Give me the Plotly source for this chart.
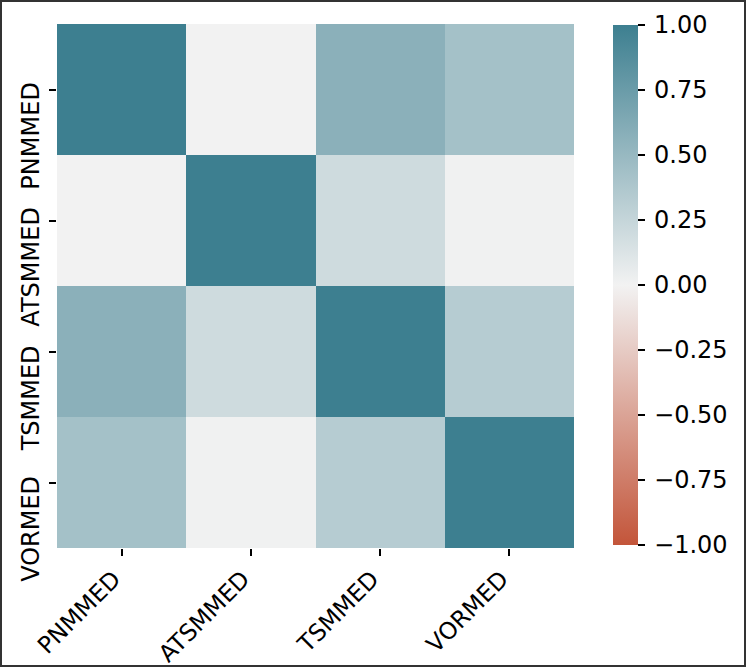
import plotly.graph_objects as go

labels = ["PNMMED", "ATSMMED", "TSMMED", "VORMED"]
corr = [
    [1.00, 0.00, 0.57, 0.43],
    [0.00, 1.00, 0.20, 0.01],
    [0.57, 0.20, 1.00, 0.33],
    [0.43, 0.01, 0.33, 1.00],
]
cbar_vals = [-1.0, -0.75, -0.5, -0.25, 0.0, 0.25, 0.5, 0.75, 1.0]
cbar_text = ["\u22121.00", "\u22120.75", "\u22120.50", "\u22120.25", "0.00", "0.25", "0.50", "0.75", "1.00"]

W, H = 746, 667
L, R, T, B = 57, 172, 24, 119
pw, ph = W - L - R, H - T - B

colorscale = [
    [0.0, "#c3553a"],
    [0.5, "#f2f2f2"],
    [1.0, "#3d7f90"],
]

fig = go.Figure(go.Heatmap(
    z=corr, x=labels, y=labels, zmin=-1, zmax=1,
    colorscale=colorscale, xgap=0, ygap=0,
    colorbar=dict(
        x=(613 - L) / pw, xanchor="left", xref="paper", xpad=0, ypad=0,
        y=(H - 545 - B) / ph, yanchor="bottom",
        len=520 / ph, lenmode="fraction", thickness=25, thicknessmode="pixels",
        outlinewidth=0, tickvals=cbar_vals,
        ticktext=["\u2009" + t for t in cbar_text],
        ticks="outside", ticklen=7, tickwidth=1.5, tickcolor="black",
        tickfont=dict(family="DejaVu Sans", size=24, color="black"),
    ),
    hoverinfo="skip",
))

fig.update_xaxes(
    tickangle=-45, ticks="outside", ticklen=7, tickwidth=1.5, tickcolor="black",
    tickfont=dict(family="DejaVu Sans", size=23.5, color="black"), ticklabelshift=-8,
    showgrid=False, zeroline=False, showline=False, automargin=False,
)
fig.update_yaxes(
    autorange="reversed", tickangle=-90, ticks="outside", ticklen=7, tickwidth=1.5,
    tickcolor="black", tickfont=dict(family="DejaVu Sans", size=24, color="black"),
    ticklabelshift=-50,
    showgrid=False, zeroline=False, showline=False, automargin=False,
)

fig.add_shape(
    type="rect", xref="paper", yref="paper",
    x0=(-L + 1) / pw, x1=(pw + R - 1) / pw,
    y0=(-B + 1) / ph, y1=(ph + T - 1) / ph,
    line=dict(color="#333333", width=2), layer="above",
)

fig.update_layout(
    width=W, height=H, margin=dict(l=L, r=R, t=T, b=B, autoexpand=False),
    paper_bgcolor="white", plot_bgcolor="white",
)

fig.write_html(
    "out.html",
    config={"displayModeBar": False},
    post_script=(
        "document.body.style.margin='0';document.body.style.padding='0';"
        "document.body.style.overflow='hidden';"
        "document.documentElement.style.overflow='hidden';"
        "document.body.style.height='667px';"
    ),
)
